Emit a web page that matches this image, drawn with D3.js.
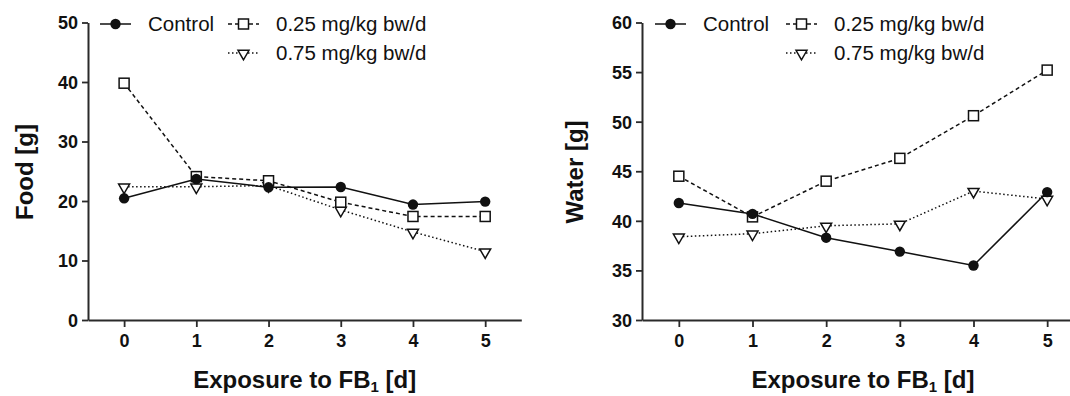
<!DOCTYPE html>
<html><head><meta charset="utf-8">
<script src="https://cdn.jsdelivr.net/npm/d3@7"></script>
<style>body{margin:0;background:#fff}svg{display:block}text{font-family:"Liberation Sans",Arial,sans-serif}</style>
</head><body><svg id="c" width="1070" height="396"></svg>
<script>
const days = [0, 1, 2, 3, 4, 5];
const seriesNames = ["Control", "0.25 mg/kg bw/d", "0.75 mg/kg bw/d"];
const foodControl = [20.45, 23.7, 22.3, 22.35, 19.4, 19.9];
const food025 = [39.8, 24.1, 23.4, 19.8, 17.4, 17.4];
const food075 = [22.4, 22.4, 22.6, 18.5, 14.8, 11.5];
const waterControl = [41.8, 40.7, 38.3, 36.9, 35.5, 42.9];
const water025 = [44.5, 40.4, 44.0, 46.3, 50.6, 55.2];
const water075 = [38.4, 38.7, 39.5, 39.7, 43.0, 42.2];
const foodTicks = [0, 10, 20, 30, 40, 50];
const waterTicks = [30, 35, 40, 45, 50, 55, 60];

const svg = d3.select("#c");
const styles = [
  {dash: null, sym: "circle"},
  {dash: "4,3", sym: "square"},
  {dash: "1.5,2.5", sym: "tri"}
];
const ink = "#111";
const axisColor = "#2a2a2a";

function marker(g, type, x, y) {
  if (type === "circle") {
    g.append("circle").attr("cx", x).attr("cy", y).attr("r", 5.2).attr("fill", ink);
  } else if (type === "square") {
    g.append("rect").attr("x", x - 5).attr("y", y - 5).attr("width", 10).attr("height", 10)
      .attr("fill", "#fff").attr("stroke", ink).attr("stroke-width", 1.5);
  } else {
    g.append("path").attr("d", d3.symbol(d3.symbolTriangle, 52)())
      .attr("transform", `translate(${x},${y + 0.5}) rotate(180)`)
      .attr("fill", "#fff").attr("stroke", ink).attr("stroke-width", 1.5);
  }
}

function panel(opt) {
  const x = d3.scaleLinear().domain([-0.5, 5.5]).range([opt.x0, opt.x1]);
  const y = d3.scaleLinear().domain(opt.ydom).range([320, 22.5]);
  const g = svg.append("g");

  const ya = g.append("g").attr("transform", `translate(${opt.x0},0)`)
    .call(d3.axisLeft(y).tickValues(opt.yticks).tickSize(6).tickPadding(4).tickSizeOuter(0));
  const xa = g.append("g").attr("transform", `translate(0,320)`)
    .call(d3.axisBottom(x).tickValues(days).tickSize(7).tickPadding(7).tickSizeOuter(0).tickFormat(d3.format("d")));
  [ya, xa].forEach(a => {
    a.select(".domain").attr("stroke", axisColor).attr("stroke-width", 2);
    a.selectAll(".tick line").attr("stroke", axisColor).attr("stroke-width", 1.8);
    a.selectAll(".tick text").attr("fill", ink).attr("font-size", 18).attr("font-weight", "bold")
      .attr("font-family", "Liberation Sans, Arial, sans-serif");
  });
  ya.selectAll(".tick text").attr("dy", "0.36em");

  // series
  const line = d3.line().x((d, i) => x(days[i])).y(d => y(d));
  opt.series.forEach((s, k) => {
    g.append("path").attr("d", line(s)).attr("fill", "none").attr("stroke", ink)
      .attr("stroke-width", 1.5).attr("stroke-dasharray", styles[k].dash);
  });
  [2, 1, 0].forEach(k => {
    opt.series[k].forEach((v, i) => marker(g, styles[k].sym, x(days[i]), y(v)));
  });

  // legend
  const L = opt.legend;
  const items = [
    {k: 0, lx: L.a, ly: 24},
    {k: 1, lx: L.b, ly: 24},
    {k: 2, lx: L.b, ly: 53}
  ];
  items.forEach(it => {
    const lg = g.append("g");
    lg.append("line").attr("x1", it.lx).attr("x2", it.lx + 31).attr("y1", it.ly).attr("y2", it.ly)
      .attr("stroke", ink).attr("stroke-width", 1.5).attr("stroke-dasharray", styles[it.k].dash);
    marker(lg, styles[it.k].sym, it.lx + 15.5, it.ly);
    lg.append("text").attr("x", it.lx + 48).attr("y", it.ly).attr("dy", "0.36em")
      .attr("font-size", 20.5).attr("fill", ink).text(seriesNames[it.k]);
  });

  // titles
  const xt = g.append("text").attr("x", (x(0) + x(5)) / 2).attr("y", 388)
    .attr("text-anchor", "middle").attr("font-size", 24).attr("font-weight", "bold").attr("fill", ink);
  xt.append("tspan").text("Exposure to FB");
  xt.append("tspan").attr("font-size", 15).attr("dy", 4).text("1");
  xt.append("tspan").attr("dy", -4).text(" [d]");

  g.append("text").attr("transform", `translate(${opt.ytx},172) rotate(-90)`)
    .attr("text-anchor", "middle").attr("font-size", 24).attr("font-weight", "bold").attr("fill", ink)
    .text(opt.ytitle);
}

panel({x0: 88, x1: 521.3, ydom: [0, 50], yticks: foodTicks, series: [foodControl, food025, food075],
  legend: {a: 100, b: 228}, ytitle: "Food [g]", ytx: 33});
panel({x0: 642, x1: 1084, ydom: [30, 60], yticks: waterTicks, series: [waterControl, water025, water075],
  legend: {a: 655, b: 786}, ytitle: "Water [g]", ytx: 583});
</script></body></html>
